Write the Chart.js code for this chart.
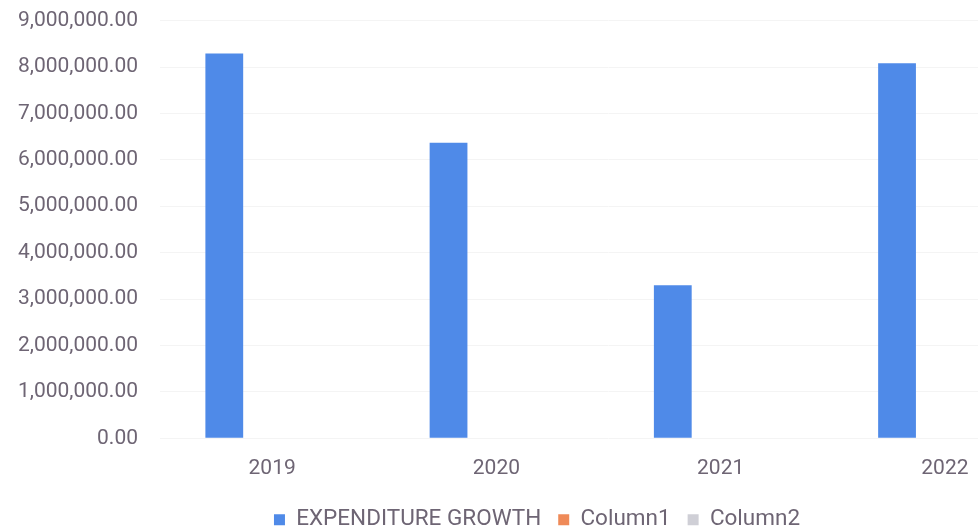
<!DOCTYPE html>
<html>
<head>
<meta charset="utf-8">
<script src="https://cdn.jsdelivr.net/npm/chart.js@4/dist/chart.umd.min.js"></script>
<style>
  html, body { margin: 0; padding: 0; background: #fff; overflow: hidden; }
  #wrap { position: absolute; left: 0; top: -14px; width: 1074px; height: 555px; }
</style>
</head>
<body>
<div id="wrap"><canvas id="myChartBar"></canvas></div>
<script>
// years on the x axis
const years = ["2019", "2020", "2021", "2022"];
// expenditure growth per year
const expenditure = [8290000, 6370000, 3300000, 8080000];
// the two other columns are empty in the sheet
const column1 = [null, null, null, null];
const column2 = [null, null, null, null];
// y axis tick range
const yMin = 0;
const yMax = 9000000;
const yStep = 1000000;

const textColor = "#6e6574";

var ctx = document.getElementById('myChartBar').getContext('2d');

grafico = new Chart(ctx, {
    type: 'bar',
    data: {
        labels: years,
        datasets: [{
            data: expenditure,
            label: "EXPENDITURE GROWTH",
            backgroundColor: "#4f8ae8"
        }, {
            data: column1,
            label: "Column1",
            backgroundColor: "#ef8a58"
        }, {
            data: column2,
            label: "Column2",
            backgroundColor: "#cfcfd6"
        }]
    },
    options: {
        responsive: true,
        maintainAspectRatio: false,
        animation: false,
        categoryPercentage: 0.64,
        barPercentage: 0.79,
        layout: {
            padding: { top: 8, left: 17, right: 17, bottom: 0 }
        },
        plugins: {
            legend: {
                position: 'bottom',
                labels: {
                    color: textColor,
                    font: { family: "Roboto", size: 22.5 },
                    boxWidth: 11,
                    boxHeight: 11,
                    padding: 17
                }
            },
            tooltip: { enabled: false }
        },
        scales: {
            x: {
                grid: { display: false },
                border: { display: false },
                ticks: {
                    color: textColor,
                    font: { family: "Roboto", size: 21 },
                    padding: 10,
                    maxRotation: 0
                }
            },
            y: {
                min: yMin,
                max: yMax,
                grid: { color: "#f4f4f4", drawTicks: false },
                border: { display: false },
                afterFit: function(scale) { scale.width = 143; },
                ticks: {
                    stepSize: yStep,
                    color: textColor,
                    font: { family: "Roboto", size: 21 },
                    padding: 22,
                    callback: v => v.toLocaleString('en-US', { minimumFractionDigits: 2, maximumFractionDigits: 2 })
                }
            }
        }
    }
});
</script>
</body>
</html>
